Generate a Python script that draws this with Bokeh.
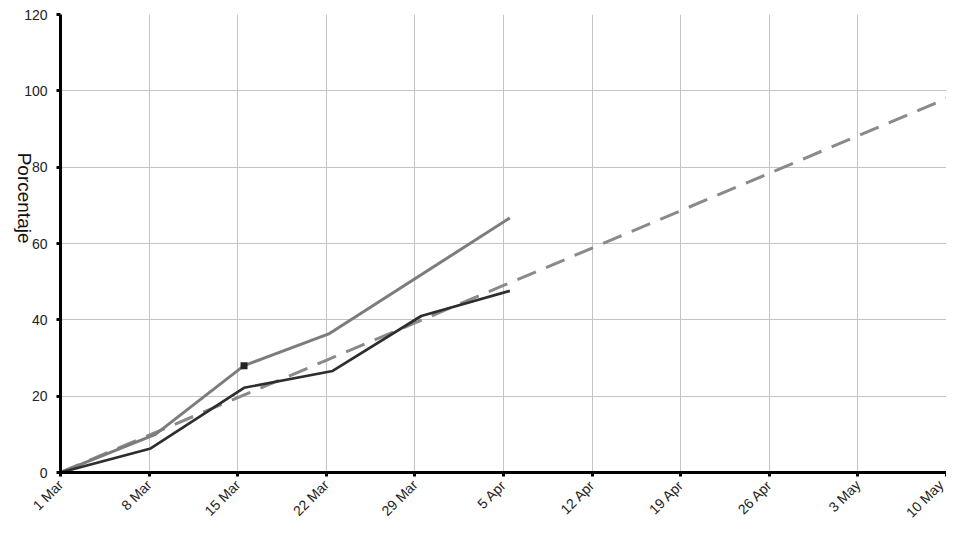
import math
import pandas as pd
from bokeh.plotting import figure
from bokeh.models import Range1d, FixedTicker
from bokeh.embed import file_html
from bokeh.resources import INLINE

# ---- data ----
start = "2020-03-01"
tick_dates = ["2020-03-01", "2020-03-08", "2020-03-15", "2020-03-22", "2020-03-29",
              "2020-04-05", "2020-04-12", "2020-04-19", "2020-04-26", "2020-05-03", "2020-05-10"]
tick_labels = ["1 Mar", "8 Mar", "15 Mar", "22 Mar", "29 Mar", "5 Apr",
               "12 Apr", "19 Apr", "26 Apr", "3 May", "10 May"]

dark_dates = ["2020-03-01 00:00", "2020-03-08 03:00", "2020-03-15 12:00", "2020-03-22 12:00",
              "2020-03-29 12:00", "2020-04-05 12:00"]
dark_vals = [0, 6.3, 22.2, 26.6, 41.0, 47.6]

light_dates = ["2020-03-01 00:00", "2020-03-08 12:00", "2020-03-15 12:00", "2020-03-22 06:00",
               "2020-04-05 12:00"]
light_vals = [0, 10.0, 28.0, 36.4, 66.7]

dash_dates = tick_dates
dash_vals = [0, 9.8, 19.6, 29.4, 39.2, 49.0, 58.8, 68.6, 78.4, 88.2, 98.0]

y_ticks = [0, 20, 40, 60, 80, 100, 120]


def days(ds):
    return list((pd.to_datetime(ds, format="mixed") - pd.Timestamp(start)) / pd.Timedelta(days=1))


FONT = "Liberation Sans"

p = figure(width=946, height=537, output_backend="svg", toolbar_location=None,
           x_range=Range1d(0, 70), y_range=Range1d(0, 120),
           min_border_left=60, min_border_right=0, min_border_top=14, min_border_bottom=65)
p.outline_line_color = None
p.background_fill_color = "white"

tx = days(tick_dates)
p.xaxis.ticker = FixedTicker(ticks=tx)
p.xaxis.major_label_overrides = {t: lab for t, lab in zip(tx, tick_labels)}
p.xaxis.major_label_orientation = math.pi / 4
p.yaxis.ticker = FixedTicker(ticks=y_ticks)

for ax in (p.xaxis[0], p.yaxis[0]):
    ax.axis_line_width = 3
    ax.axis_line_color = "black"
    ax.major_tick_line_width = 3
    ax.major_tick_line_color = "black"
    ax.major_tick_in = 0
    ax.major_tick_out = 4
    ax.minor_tick_line_color = None
    ax.major_label_text_font = FONT
    ax.major_label_text_font_size = "14px"
    ax.major_label_text_color = "#222222"
p.yaxis.major_label_standoff = 9
p.xaxis.major_label_standoff = 6

yax = p.yaxis[0]
yax.axis_label = "Porcentaje"
yax.axis_label_text_font = FONT
yax.axis_label_text_font_size = "19px"
yax.axis_label_text_font_style = "normal"
yax.axis_label_text_color = "#111111"
yax.axis_label_standoff = -3
if "axis_label_orientation" in yax.properties():
    yax.axis_label_orientation = -math.pi / 2

p.xgrid.grid_line_color = "#c4c4c4"
p.ygrid.grid_line_color = "#c4c4c4"
p.xgrid.grid_line_width = 1
p.ygrid.grid_line_width = 1

p.line(days(dash_dates), dash_vals, line_color="#8a8a8a", line_width=3, line_dash="20 11")
p.line(days(light_dates), light_vals, line_color="#7c7c7c", line_width=3)
p.line(days(dark_dates), dark_vals, line_color="#2e2e2e", line_width=2.7)
p.scatter([days(light_dates)[2]], [light_vals[2]], marker="square", size=7,
          fill_color="#222222", line_color=None)

open("out.html", "w").write(file_html(p, INLINE))
